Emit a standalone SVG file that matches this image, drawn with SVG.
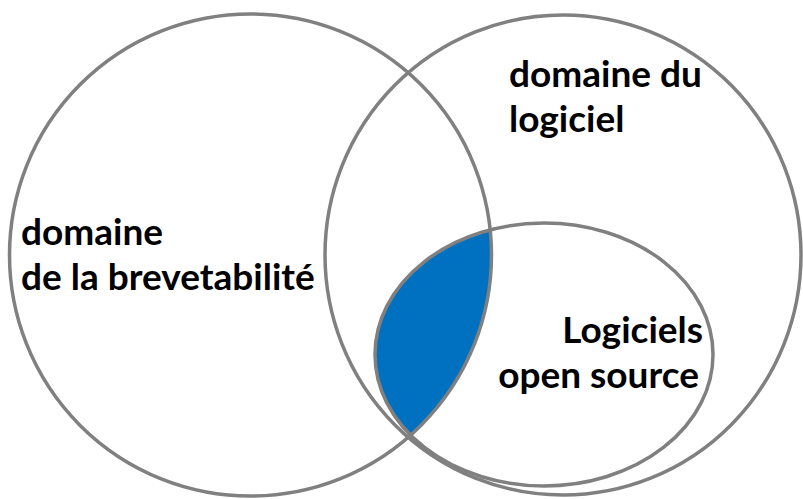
<svg xmlns="http://www.w3.org/2000/svg" width="803" height="499" viewBox="0 0 803 499">
  <style>
    .ring { fill: none; stroke: #808080; stroke-width: 3.5; }
    .lbl { font-family: Lato, "Open Sans", "Liberation Sans", sans-serif; font-weight: bold; font-size: 37px; fill: #000000; }
  </style>
  <defs>
    <clipPath id="clipLeft">
      <circle cx="250.5" cy="255" r="241"/>
    </clipPath>
  </defs>
  <rect x="0" y="0" width="803" height="499" fill="#ffffff"/>
  <g id="overlap">
    <ellipse cx="544" cy="354.5" rx="169" ry="131.5" fill="#0070C0" clip-path="url(#clipLeft)"/>
  </g>
  <g id="brevetabilite">
    <circle class="ring" cx="250.5" cy="255" r="241"/>
    <text class="lbl" x="21" y="245">domaine</text>
    <text class="lbl" x="21" y="290">de la brevetabilité</text>
  </g>
  <g id="logiciel">
    <ellipse class="ring" cx="563" cy="255" rx="238" ry="240"/>
    <text class="lbl" x="509" y="87">domaine du</text>
    <text class="lbl" x="509" y="132">logiciel</text>
  </g>
  <g id="open-source">
    <ellipse class="ring" cx="544" cy="354.5" rx="169" ry="131.5"/>
    <text class="lbl" x="703" y="343" text-anchor="end">Logiciels</text>
    <text class="lbl" x="699" y="388" text-anchor="end">open source</text>
  </g>
</svg>
